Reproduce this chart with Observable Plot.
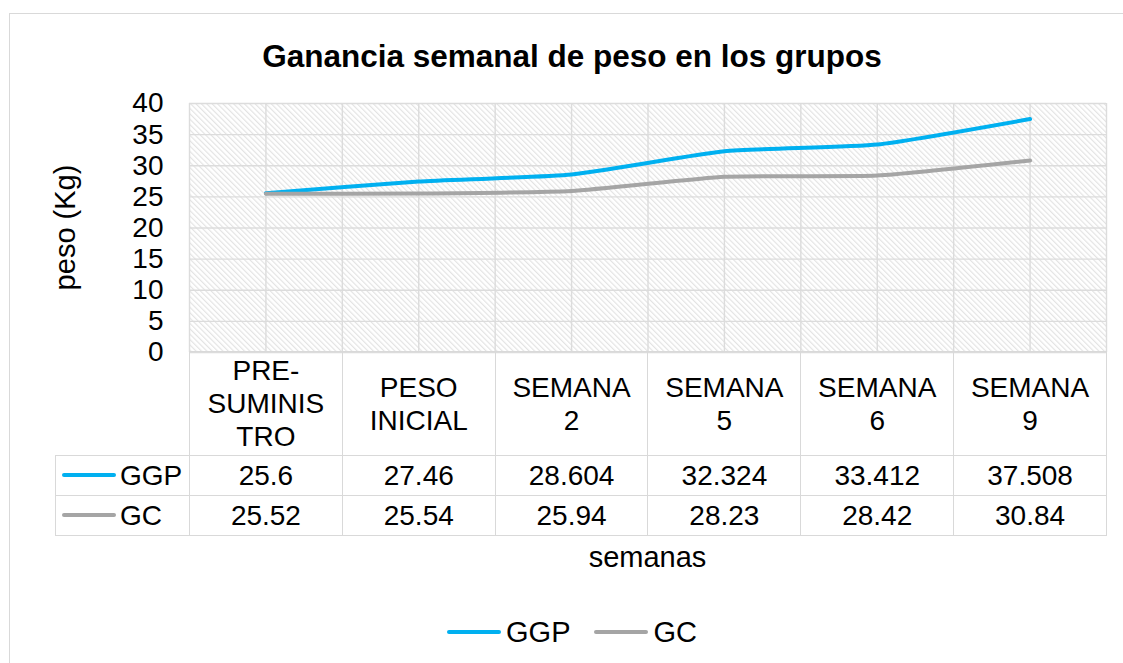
<!DOCTYPE html>
<html>
<head>
<meta charset="utf-8">
<script src="https://cdn.jsdelivr.net/npm/d3@7"></script>
<script src="https://cdn.jsdelivr.net/npm/@observablehq/plot@0.6"></script>
<style>
  html, body { margin: 0; padding: 0; background: #fff; }
  #chart { position: relative; width: 1123px; height: 663px; overflow: hidden; background: #fff;
           font-family: "Liberation Sans", Arial, sans-serif; color: #000; }
  .abs { position: absolute; }
  table.dt { position: absolute; border-collapse: collapse; table-layout: fixed; font-size: 28px; }
  table.dt td { border: 1.5px solid #d9d9d9; padding: 0; text-align: center; vertical-align: middle; white-space: pre-line; }
  table.dt tr.hdr td { line-height: 33px; }
  table.dt td.key { text-align: left; padding-left: 6px; white-space: nowrap; }
  .sw { display: inline-block; width: 54px; height: 4px; border-radius: 2px; vertical-align: middle; margin-right: 4px; position: relative; top: -2px; }
</style>
</head>
<body>
<div id="chart"></div>
<script>
// ---- data ----
const categories = ["PRE-SUMINISTRO", "PESO INICIAL", "SEMANA 2", "SEMANA 5", "SEMANA 6", "SEMANA 9"];
const categoryLabels = ["PRE-\nSUMINIS\nTRO", "PESO\nINICIAL", "SEMANA\n2", "SEMANA\n5", "SEMANA\n6", "SEMANA\n9"];
const seriesNames = ["GGP", "GC"];
const ggp = [25.6, 27.46, 28.604, 32.324, 33.412, 37.508];
const gc = [25.52, 25.54, 25.94, 28.23, 28.42, 30.84];
const yTicks = [0, 5, 10, 15, 20, 25, 30, 35, 40];
const colors = ["#00B0F0", "#A5A5A5"];
const title = "Ganancia semanal de peso en los grupos";
const yLabel = "peso (Kg)";
const xLabel = "semanas";

const seriesValues = [ggp, gc];
const rows = [];
seriesNames.forEach((s, k) => seriesValues[k].forEach((v, i) => rows.push({serie: s, i, cat: categories[i], value: v})));

const font = '"Liberation Sans", Arial, sans-serif';
const chart = document.getElementById("chart");

// outer border
const border = document.createElement("div");
border.className = "abs";
Object.assign(border.style, {left: "9px", top: "13px", width: "1300px", height: "1000px", border: "1.5px solid #d9d9d9"});
chart.appendChild(border);

// title
const t = document.createElement("div");
t.className = "abs";
Object.assign(t.style, {left: "0px", top: "41px", width: "1144px", textAlign: "center", fontSize: "31.5px", lineHeight: "31.5px", fontWeight: "bold"});
t.textContent = title;
chart.appendChild(t);

// plot
const gridTicksX = d3.range(-0.5, categories.length, 0.5);
const plot = Plot.plot({
  width: 1123,
  height: 360,
  marginLeft: 189,
  marginRight: 17,
  marginTop: 103,
  marginBottom: 8,
  x: {domain: [-0.5, categories.length - 0.5], axis: null},
  y: {domain: [0, 40]},
  color: {domain: seriesNames, range: colors},
  style: {fontFamily: font, fontSize: "28px", color: "#000", background: "transparent", overflow: "visible"},
  marks: [
    Plot.frame({fill: "url(#hatch)", stroke: null}),
    Plot.gridX(gridTicksX, {stroke: "#dcdcdc", strokeOpacity: 1, strokeWidth: 1.4}),
    Plot.gridY(yTicks, {stroke: "#dcdcdc", strokeOpacity: 1, strokeWidth: 1.4}),
    Plot.axisY(yTicks, {tickSize: 0, tickPadding: 26, label: null, fill: "#000", fontSize: 28}),
    Plot.line(rows, {x: "i", y: "value", z: "serie", stroke: "serie", curve: "cardinal", tension: 0.5, strokeWidth: 4, strokeLinecap: "round"})
  ]
});
plot.style.position = "absolute";
plot.style.left = "0px";
plot.style.top = "0px";
// hatch pattern
const svgNS = "http://www.w3.org/2000/svg";
const defs = document.createElementNS(svgNS, "defs");
defs.innerHTML = '<pattern id="hatch" patternUnits="userSpaceOnUse" width="3.8" height="3.8" patternTransform="rotate(-45)">' +
  '<rect width="3.8" height="3.8" fill="#ffffff"/>' +
  '<line x1="0.6" y1="0" x2="0.6" y2="3.8" stroke="#e2e2e2" stroke-width="1.1"/></pattern>';
plot.insertBefore(defs, plot.firstChild);
chart.appendChild(plot);

// y label
const yl = document.createElement("div");
yl.className = "abs";
Object.assign(yl.style, {left: "-85px", top: "213px", width: "300px", height: "29px", lineHeight: "29px", fontSize: "29px", textAlign: "center", transform: "rotate(-90deg)"});
yl.textContent = yLabel;
chart.appendChild(yl);

// data table
const xs = plot.scale("x");
const tableLeft = 55;
const plotLeft = xs.apply(-0.5);
const colW = categories.map((c, i) => xs.apply(i + 0.5) - xs.apply(i - 0.5));
const plotBottom = plot.scale("y").apply(0);
const tbl = document.createElement("table");
tbl.className = "dt";
tbl.style.left = tableLeft + "px";
tbl.style.top = (plotBottom - 0.75) + "px";
tbl.style.width = (plotLeft - tableLeft + d3.sum(colW)) + "px";
let html = '<colgroup><col style="width:' + (plotLeft - tableLeft) + 'px">' + colW.map(w => '<col style="width:' + w + 'px">').join("") + '</colgroup>';
html += '<tr class="hdr" style="height:104px"><td style="border:none"></td>' + categoryLabels.map(l => '<td>' + l + '</td>').join("") + '</tr>';
seriesNames.forEach((s, k) => {
  html += '<tr style="height:40px"><td class="key"><span class="sw" style="background:' + colors[k] + '"></span>' + s + '</td>' +
    seriesValues[k].map(v => '<td>' + v + '</td>').join("") + '</tr>';
});
tbl.innerHTML = html;
chart.appendChild(tbl);

// x label
const xl = document.createElement("div");
xl.className = "abs";
const xCenter = (xs.apply(-0.5) + xs.apply(categories.length - 0.5)) / 2;
Object.assign(xl.style, {left: (xCenter - 300) + "px", top: "543px", width: "600px", textAlign: "center", fontSize: "29px", lineHeight: "29px"});
xl.textContent = xLabel;
chart.appendChild(xl);

// legend
const lg = document.createElement("div");
lg.className = "abs";
Object.assign(lg.style, {left: "0px", top: "617px", width: "1144px", height: "30px", display: "flex", justifyContent: "center", alignItems: "center", fontSize: "29px", lineHeight: "30px"});
lg.innerHTML = seriesNames.map((s, k) =>
  '<span style="display:inline-flex;align-items:center;margin:0 12px">' +
  '<span style="display:inline-block;width:54px;height:4px;border-radius:2px;background:' + colors[k] + ';margin-right:5px"></span>' + s + '</span>').join("");
chart.appendChild(lg);
</script>
</body>
</html>
